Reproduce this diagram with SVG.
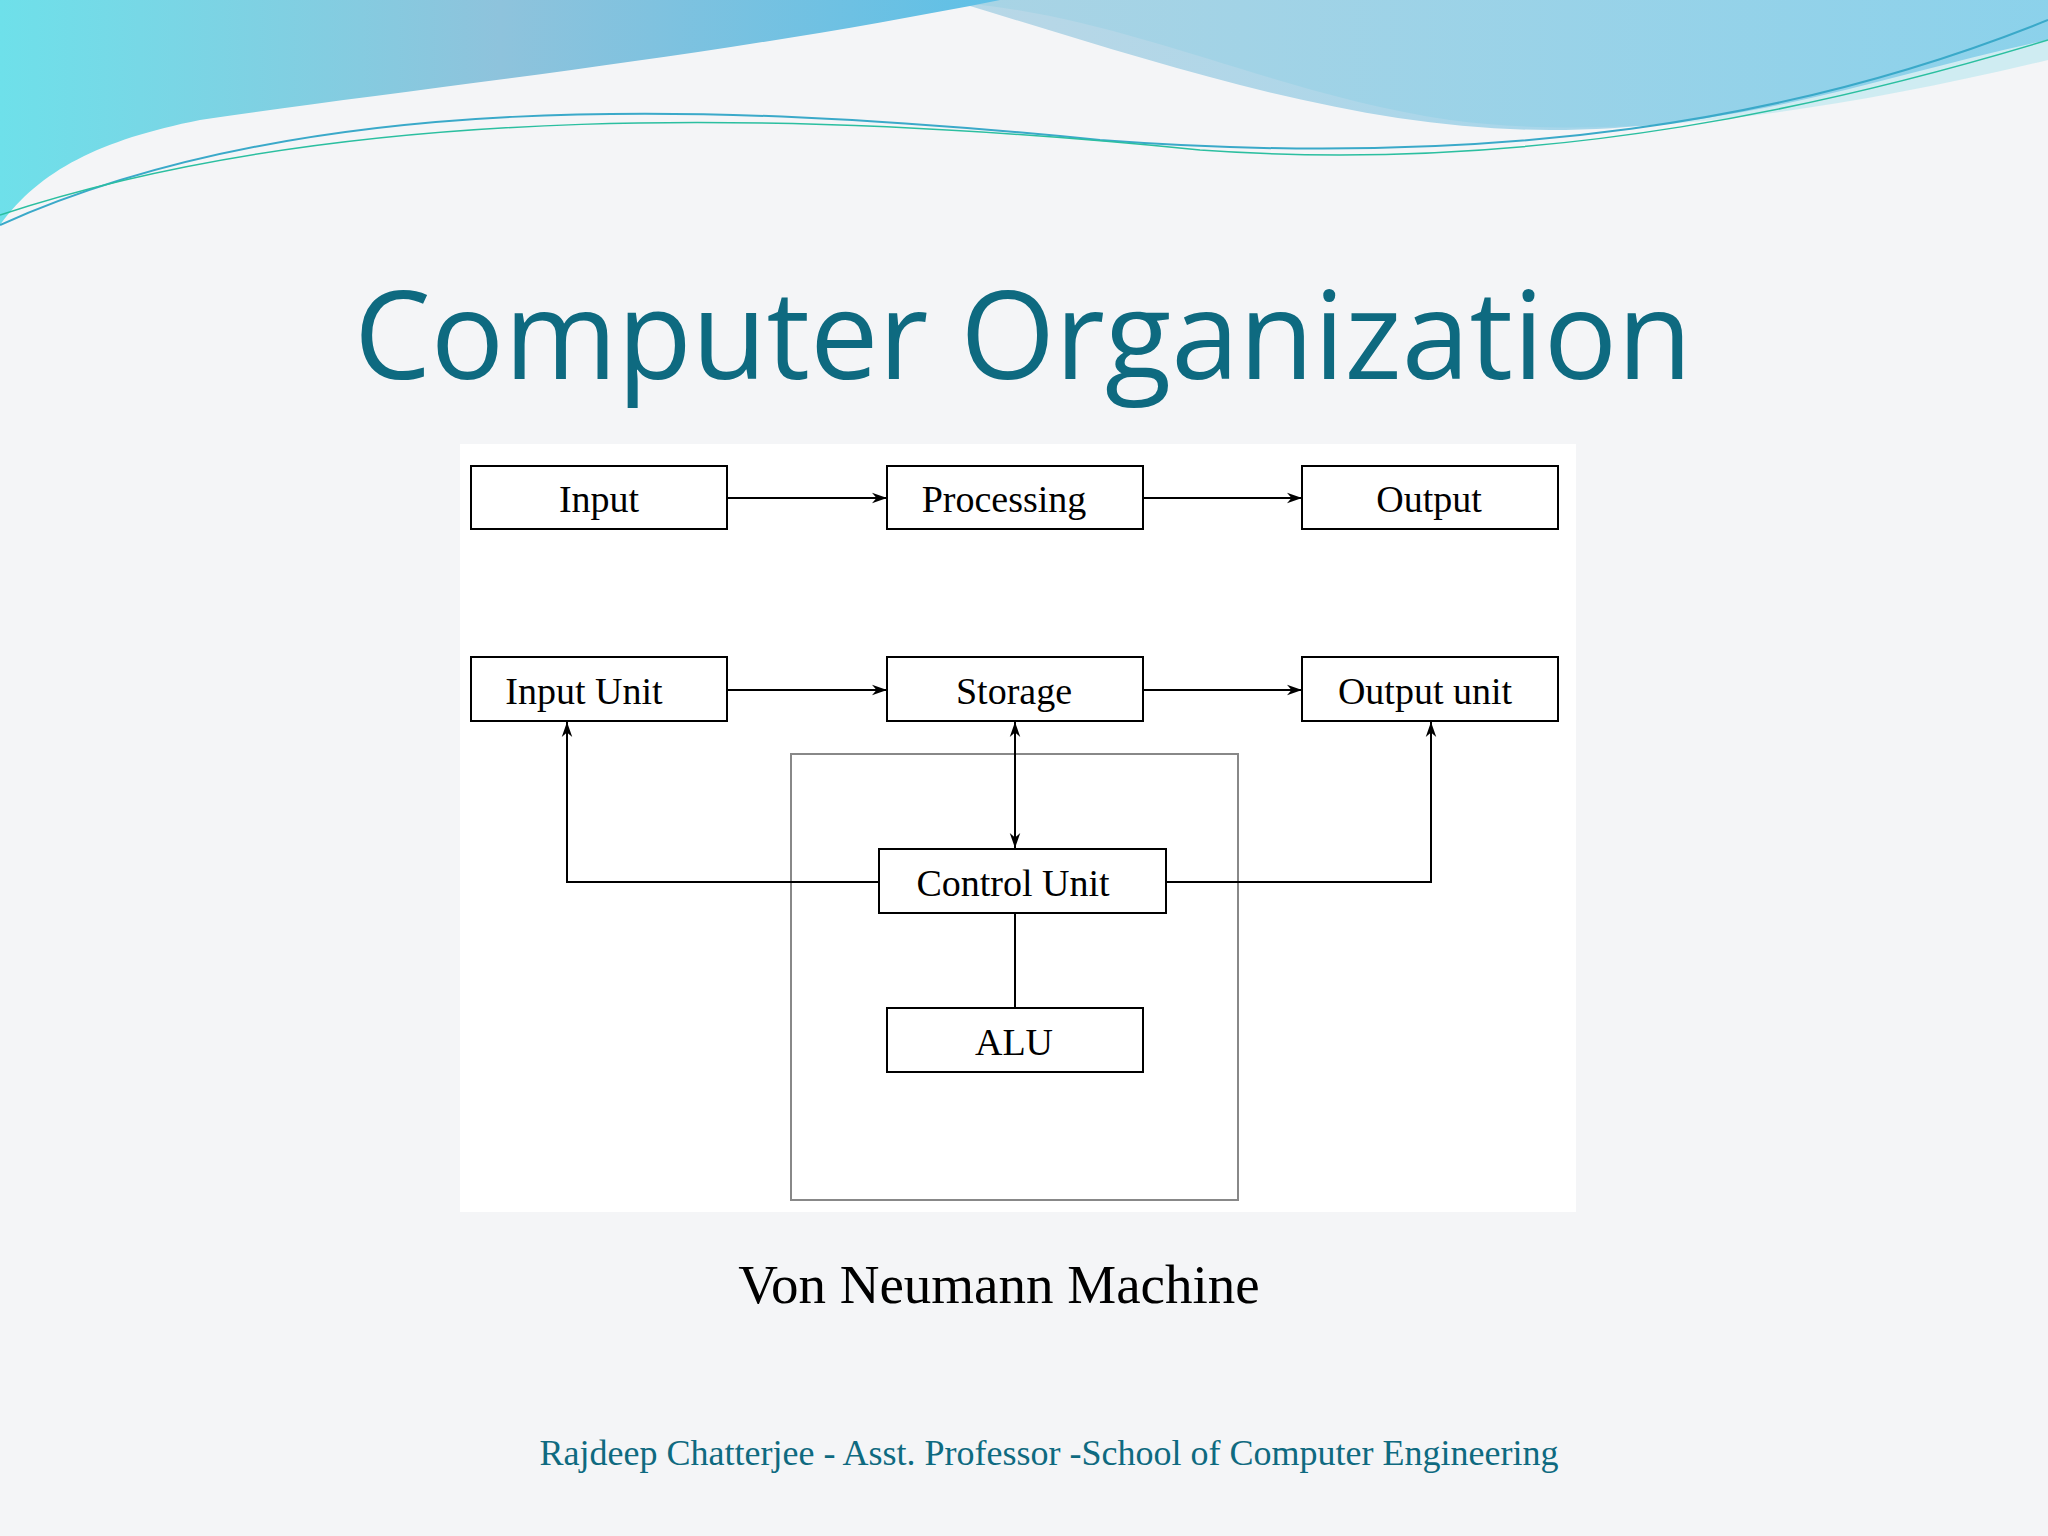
<svg xmlns="http://www.w3.org/2000/svg" width="2048" height="1536" viewBox="0 0 2048 1536">
<defs>
<linearGradient id="wave" x1="0" y1="0" x2="1" y2="0">
<stop offset="0" stop-color="#6ee0ea"/><stop offset="0.5" stop-color="#8ec3dc"/><stop offset="1" stop-color="#5fc0e6"/>
</linearGradient>
<marker id="ah" viewBox="0 0 10 10" refX="10" refY="5" markerWidth="15" markerHeight="15" orient="auto-start-reverse" markerUnits="userSpaceOnUse">
<path d="M0,1.5 L10,5 L0,8.5 L3,5 Z" fill="#000"/>
</marker>
<style>
.box{fill:#fff;stroke:#000;stroke-width:2}
.bt{font-family:"Liberation Serif",serif;font-size:38px;text-anchor:middle;fill:#000}
.ln{stroke:#000;stroke-width:2;fill:none}
</style>
</defs>
<rect width="2048" height="1536" fill="#f4f5f7"/>
<path d="M0,0 H2048 V60 C1800,120 1600,140 1450,120 C1250,90 1100,0 900,0 Z" fill="#bfe8f0" opacity="0.7"/>
<path d="M0,0 H950 C1150,60 1350,130 1550,130 C1750,130 1900,70 2048,40 V0 Z" fill="url(#wave)" opacity="0.6"/>
<path d="M0,0 H1000 C700,60 400,90 200,120 C100,140 40,170 0,225 Z" fill="url(#wave)"/>
<path d="M0,225 C300,90 700,100 1100,140 C1500,170 1800,120 2048,20" fill="none" stroke="#3aa9c9" stroke-width="2"/>
<path d="M0,215 C350,100 800,110 1200,150 C1550,175 1850,100 2048,40" fill="none" stroke="#2bbfa0" stroke-width="1.5"/>
<text x="1023" y="379" font-family="'Open Sans','Noto Sans',sans-serif" font-size="122" fill="#0e6a80" text-anchor="middle">Computer Organization</text>
<rect x="460" y="444" width="1116" height="768" fill="#fff"/>
<rect x="791" y="754" width="447" height="446" fill="none" stroke="#888" stroke-width="2"/>
<g id="connectors">
<line class="ln" x1="727" y1="498" x2="887" y2="498" marker-end="url(#ah)"/>
<line class="ln" x1="1143" y1="498" x2="1302" y2="498" marker-end="url(#ah)"/>
<line class="ln" x1="727" y1="690" x2="887" y2="690" marker-end="url(#ah)"/>
<line class="ln" x1="1143" y1="690" x2="1302" y2="690" marker-end="url(#ah)"/>
<line class="ln" x1="1015" y1="722" x2="1015" y2="848" marker-start="url(#ah)" marker-end="url(#ah)"/>
<polyline class="ln" points="879,882 567,882 567,722" marker-end="url(#ah)"/>
<polyline class="ln" points="1166,882 1431,882 1431,722" marker-end="url(#ah)"/>
<line class="ln" x1="1015" y1="913" x2="1015" y2="1008"/>
</g>
<g id="input"><rect class="box" x="471" y="466" width="256" height="63"/><text class="bt" x="599" y="512">Input</text></g>
<g id="processing"><rect class="box" x="887" y="466" width="256" height="63"/><text class="bt" x="1004" y="512">Processing</text></g>
<g id="output"><rect class="box" x="1302" y="466" width="256" height="63"/><text class="bt" x="1429" y="512">Output</text></g>
<g id="inputunit"><rect class="box" x="471" y="657" width="256" height="64"/><text class="bt" x="584" y="704">Input Unit</text></g>
<g id="storage"><rect class="box" x="887" y="657" width="256" height="64"/><text class="bt" x="1014" y="704">Storage</text></g>
<g id="outputunit"><rect class="box" x="1302" y="657" width="256" height="64"/><text class="bt" x="1425" y="704">Output unit</text></g>
<g id="controlunit"><rect class="box" x="879" y="849" width="287" height="64"/><text class="bt" x="1013" y="896">Control Unit</text></g>
<g id="alu"><rect class="box" x="887" y="1008" width="256" height="64"/><text class="bt" x="1014" y="1055">ALU</text></g>
<text x="999" y="1303" font-family="'Liberation Serif',serif" font-size="55" text-anchor="middle" fill="#000">Von Neumann Machine</text>
<text x="1049" y="1465" font-family="'Liberation Serif',serif" font-size="36" text-anchor="middle" fill="#0e6a80">Rajdeep Chatterjee - Asst. Professor -School of Computer Engineering</text>
</svg>
